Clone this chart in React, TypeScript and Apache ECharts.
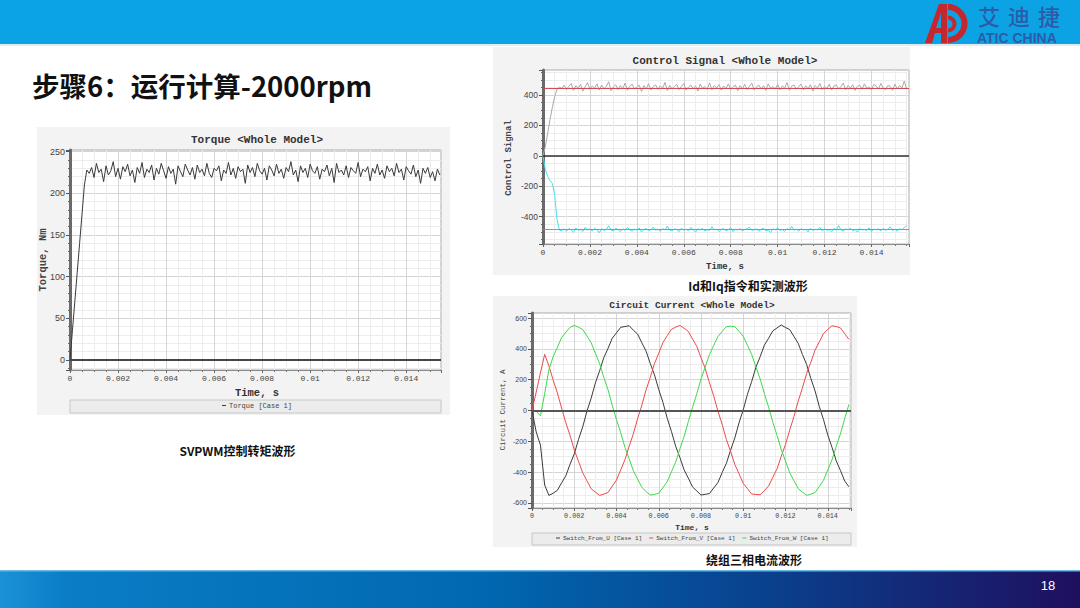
import React, { useEffect, useRef } from 'react';
import * as echarts from 'echarts';

// ---------- Torque chart data (sampled every 0.0001 s) ----------
const TORQUE_STEP = 0.0001;
const torqueRamp = [0, 35, 70, 105, 140, 175, 210];
const torqueSteady = [
  228, 224, 231, 219, 236, 225, 229, 214, 233, 222,
  227, 238, 220, 230, 217, 232, 226, 235, 221, 228,
  213, 231, 224, 237, 219, 229, 225, 234, 216, 230,
  223, 236, 227, 218, 232, 224, 229, 211, 233, 226,
  220, 235, 228, 222, 231, 217, 234, 225, 229, 221,
  236, 224, 219, 230, 227, 233, 215, 228, 224, 237,
  222, 230, 218, 232, 226, 229, 212, 234, 225, 231,
  220, 236, 227, 223, 230, 216, 233, 228, 221, 235,
  224, 229, 218, 231, 226, 238, 222, 228, 214, 233,
  225, 230, 219, 235, 227, 224, 232, 217, 229, 226,
  234, 221, 230, 213, 236, 225, 228, 222, 233, 219,
  231, 227, 224, 237, 220, 229, 226, 232, 215, 230,
  224, 235, 222, 228, 218, 233, 226, 230, 221, 236,
  225, 229, 216, 232, 227, 223, 234, 220, 228, 212,
  230, 224, 231, 219, 226, 215, 229, 222,
];
const torqueValues = torqueRamp.concat(torqueSteady);

// ---------- Control signal data (sampled every 0.0001 s) ----------
const CONTROL_STEP = 0.0001;
const iqRise = [0, 60, 150, 240, 320, 390, 440];
const iqSteady = [
  452, 444, 466, 436, 458, 476, 431, 461, 444, 470,
  426, 456, 482, 438, 460, 446, 474, 433, 466, 441,
  458, 488, 428, 454, 468, 436, 463, 443, 479, 432,
  459, 472, 439, 455, 465, 424, 462, 441, 475, 434,
  457, 467, 437, 461, 445, 484, 430, 464, 442, 456,
  470, 436, 458, 476, 433, 453, 466, 441, 461, 426,
  473, 444, 457, 438, 480, 435, 463, 447, 469, 432,
  460, 443, 474, 437, 456, 465, 429, 462, 442, 471,
  436, 458, 478, 434, 454, 466, 440, 462, 431, 474,
  445, 456, 439, 470, 435, 461, 446, 482, 432, 458,
  467, 438, 455, 473, 434, 461, 441, 468, 427, 463,
  447, 476, 436, 457, 443, 471, 433, 460, 466, 440,
  456, 479, 435, 462, 445, 469, 431, 458, 465, 438,
  474, 444, 455, 434, 470, 461, 439, 477, 446, 436,
  464, 457, 432, 472, 441, 463, 448, 492, 440,
];
const idFall = [0, -90, -135, -165, -180, -260, -420, -490];
const idSteady = [
  -492, -480, -497, -478, -488, -503, -475, -490, -484, -498,
  -470, -489, -481, -495, -477, -486, -506, -479, -491, -483,
  -460, -488, -494, -476, -485, -499, -480, -490, -472, -487,
  -496, -482, -489, -475, -501, -484, -478, -492, -486, -468,
  -490, -481, -497, -479, -487, -462, -488, -494, -480, -485,
  -499, -476, -489, -483, -493, -471, -486, -502, -480, -488,
  -477, -494, -485, -490, -466, -487, -481, -498, -484, -479,
  -492, -486, -473, -500, -482, -489, -478, -495, -485, -481,
  -469, -491, -486, -480, -497, -483, -476, -493, -488, -505,
  -480, -487, -474, -491, -484, -498, -479, -486, -464, -490,
  -482, -496, -478, -488, -485, -501, -476, -492, -483, -487,
  -471, -494, -480, -489, -486, -499, -477, -490, -458, -488,
  -495, -481, -487, -476, -493, -484, -502, -479, -488, -485,
  -490, -473, -497, -482, -486, -480, -494, -478, -489, -484,
  -466, -491, -483, -496, -479, -487, -472, -460,
];
const iqMeasured = iqRise.concat(iqSteady);
const idMeasured = idFall.concat(idSteady);
const iqCommand = 445;
const idCommand = -483;

// ---------- Circuit current data (sampled every 0.0002 s) ----------
const CURRENT_STEP = 0.0002;
const currentU = [
  0, -140, -225, -485, -552, -538, -519, -471, -425, -350,
  -282, -189, -107, -5, 80, 179, 258, 344, 404, 470,
  505, 541, 546, 551, 522, 497, 440, 386, 305, 231,
  136, 52, -50, -136, -232, -305, -386, -440, -497, -523,
  -550, -545, -540, -504, -469, -404, -344, -258, -179, -80,
  5, 106, 189, 282, 350, 425, 470, 518, 537, 556,
  540, 526, 481, 437, 365, 299, 208, 127, 26, -60,
  -159, -239, -327, -390, -458, -496,
];
const currentV = [
  0, 120, 245, 365, 290, 198, 115, 16, -79, -162,
  -256, -330, -405, -457, -509, -531, -552, -544, -533, -492,
  -452, -386, -320, -232, -151, -52, 35, 135, 216, 306,
  372, 442, 486, 528, 542, 553, 535, 514, 465, 417,
  343, 273, 180, 96, -4, -90, -188, -266, -351, -411,
  -474, -508, -543, -546, -548, -521, -491, -434, -379, -297,
  -221, -126, -40, 61, 146, 241, 314, 393, 446, 501,
  527, 551, 546, 537, 500, 463,
];
const currentW = [
  0, -5, -35, 110, 265, 350, 410, 474, 508, 541,
  553, 542, 527, 485, 441, 371, 305, 215, 134, 33,
  -60, -145, -239, -314, -392, -446, -500, -527, -550, -546,
  -537, -501, -463, -399, -336, -250, -169, -72, 21, 109,
  205, 283, 364, 423, 481, 514, 545, 548, 545, 515,
  482, 424, 364, 283, 205, 110, 22, -77, -162, -255,
  -329, -405, -457, -507, -531, -552, -544, -533, -494, -453,
  -386, -321, -234, -152, -53, 39,
];

const seriesNames = {
  torque: 'Torque [Case 1]',
  u: 'Switch_From_U [Case 1]',
  v: 'Switch_From_V [Case 1]',
  w: 'Switch_From_W [Case 1]',
};

const logoChars = ['艾', '迪', '捷'];

const toPoints = (vals: number[], step: number) =>
  vals.map((v, i) => [Number((i * step).toFixed(6)), v]);

const MONO = '"Liberation Mono", "DejaVu Sans Mono", monospace';
const SANS = '"Liberation Sans", Arial, sans-serif';
const CJK = '"Noto Sans CJK SC", "Noto Sans", sans-serif';

function xAxisCfg(gridIndex: number, max: number, fontSize: number) {
  return {
    type: 'value',
    gridIndex,
    min: 0,
    max,
    interval: 0.002,
    axisLine: { show: true, onZero: false, lineStyle: { color: '#8a8a8a', width: 1 } },
    axisTick: { show: true, length: 3, lineStyle: { color: '#666' } },
    minorTick: { show: true, splitNumber: 4, length: 2, lineStyle: { color: '#777' } },
    splitLine: { show: true, lineStyle: { color: '#d4d4d4', width: 1 } },
    minorSplitLine: { show: true, lineStyle: { color: '#ededed', width: 1 } },
    axisLabel: {
      show: true,
      showMaxLabel: false,
      fontFamily: MONO,
      fontSize,
      color: '#444',
      margin: 4,
    },
  };
}

function yAxisCfg(gridIndex: number, min: number, max: number, splitNumber: number, minor: number, fontSize: number) {
  return {
    type: 'value',
    gridIndex,
    min,
    max,
    splitNumber,
    axisLine: { show: true, onZero: false, lineStyle: { color: '#6a6a6a', width: 3 } },
    axisTick: { show: true, length: 4, lineStyle: { color: '#555' } },
    minorTick: { show: true, splitNumber: minor, length: 2, lineStyle: { color: '#666' } },
    splitLine: { show: true, lineStyle: { color: '#d4d4d4', width: 1 } },
    minorSplitLine: { show: true, lineStyle: { color: '#ededed', width: 1 } },
    axisLabel: {
      show: true,
      showMinLabel: false,
      showMaxLabel: false,
      fontFamily: SANS,
      fontSize,
      color: '#444',
      margin: 5,
    },
  };
}

function lineSeries(name: string, data: number[][], xi: number, color: string, extra: any = {}) {
  return {
    type: 'line',
    name,
    data,
    xAxisIndex: xi,
    yAxisIndex: xi,
    showSymbol: false,
    symbol: 'none',
    lineStyle: { color, width: 1 },
    itemStyle: { color },
    ...extra,
  };
}

function refLine(value: number, color: string, width: number) {
  return {
    yAxis: value,
    lineStyle: { color, width, type: 'solid' },
  };
}

const markLineBase = {
  silent: true,
  symbol: ['none', 'none'],
  label: { show: false },
  emphasis: { disabled: true },
};

function txt(text: string, x: number, y: number, font: string, fill = '#333', extra: any = {}) {
  return {
    type: 'text',
    x,
    y,
    z: 20,
    style: { text, font, fill, align: 'center', verticalAlign: 'middle' },
    ...extra,
  };
}

export default function App() {
  const ref = useRef<HTMLDivElement>(null);

  useEffect(() => {
    if (!ref.current) return;
    const chart = echarts.init(ref.current, null, { renderer: 'svg' });

    const red = '#c4272d';
    const option: any = {
      animation: false,
      backgroundColor: '#ffffff',
      grid: [
        { left: 70, top: 150, width: 371, height: 220, show: true, backgroundColor: '#fff', borderColor: '#a8a8a8', borderWidth: 1, containLabel: false, outerBoundsMode: 'none' },
        { left: 543, top: 70, width: 366, height: 174, show: true, backgroundColor: '#fff', borderColor: '#a8a8a8', borderWidth: 1, containLabel: false, outerBoundsMode: 'none' },
        { left: 532, top: 313, width: 319, height: 195, show: true, backgroundColor: '#fff', borderColor: '#a8a8a8', borderWidth: 1, containLabel: false, outerBoundsMode: 'none' },
      ],
      xAxis: [xAxisCfg(0, 0.01545, 8), xAxisCfg(1, 0.0156, 8), xAxisCfg(2, 0.0151, 6.8)],
      yAxis: [
        yAxisCfg(0, -12, 252, 5, 5, 9),
        yAxisCfg(1, -580, 565, 5, 4, 8.5),
        yAxisCfg(2, -634, 634, 6, 4, 7),
      ],
      legend: [
        {
          data: [seriesNames.torque],
          left: 222,
          top: 402,
          padding: 0,
          icon: 'rect',
          itemWidth: 4,
          itemHeight: 1,
          itemGap: 8,
          selectedMode: false,
          textStyle: { fontFamily: MONO, fontSize: 7, color: '#444', padding: [0, 0, 0, -2] },
        },
        {
          data: [seriesNames.u, seriesNames.v, seriesNames.w],
          left: 556,
          top: 535,
          padding: 0,
          icon: 'rect',
          itemWidth: 4,
          itemHeight: 1,
          itemGap: 7,
          selectedMode: false,
          textStyle: { fontFamily: MONO, fontSize: 6, color: '#444', padding: [0, 0, 0, -2] },
        },
      ],
      series: [
        lineSeries(seriesNames.torque, toPoints(torqueValues, TORQUE_STEP), 0, '#3a3a3a', {
          markLine: { ...markLineBase, data: [refLine(0, '#454545', 2)] },
        }),
        lineSeries('Iq measured', toPoints(iqMeasured, CONTROL_STEP), 1, '#a9a9a9', {
          markLine: { ...markLineBase, data: [refLine(0, '#333333', 1.5)] },
        }),
        lineSeries('Id measured', toPoints(idMeasured, CONTROL_STEP), 1, '#3fe3ee', {
          markLine: { ...markLineBase, data: [refLine(iqCommand, '#cf4b55', 1), refLine(idCommand, '#e45fe0', 1)] },
        }),
        lineSeries(seriesNames.u, toPoints(currentU, CURRENT_STEP), 2, '#3b3b3b', {
          markLine: { ...markLineBase, data: [refLine(0, '#555555', 2)] },
        }),
        lineSeries(seriesNames.v, toPoints(currentV, CURRENT_STEP), 2, '#ec4a4a'),
        lineSeries(seriesNames.w, toPoints(currentW, CURRENT_STEP), 2, '#3fd84a'),
      ],
      graphic: {
        elements: [
          // header band
          { type: 'rect', z: -5, shape: { x: 0, y: 0, width: 1080, height: 44 }, style: { fill: '#0ba3e3' } },
          { type: 'rect', z: -5, shape: { x: 0, y: 44, width: 1080, height: 2 }, style: { fill: '#dcecf5' } },
          // logo
          { type: 'polygon', z: 5, shape: { points: [[925, 43], [939, 4], [947, 4], [947, 43], [941, 43], [941, 33], [935, 33], [932, 43]] }, style: { fill: red } },
          { type: 'polygon', z: 6, shape: { points: [[941, 13], [941, 28], [936, 28]] }, style: { fill: '#0ba3e3' } },
          { type: 'arc', z: 5, shape: { cx: 948, cy: 23.5, r: 16.5, startAngle: -Math.PI / 2, endAngle: Math.PI / 2 }, style: { stroke: red, lineWidth: 6, fill: 'none' } },
          { type: 'arc', z: 5, shape: { cx: 948, cy: 24, r: 6.5, startAngle: -Math.PI / 2, endAngle: Math.PI / 2 }, style: { stroke: red, lineWidth: 4, fill: 'none' } },
          ...logoChars.map((c, i) => ({
            type: 'text', z: 5, x: 978 + i * 30, y: 15,
            style: { text: c, font: `500 22px ${CJK}`, fill: '#2d5ba8', align: 'left', verticalAlign: 'middle', lineHeight: 22 },
          })),
          { type: 'text', z: 5, x: 977, y: 37.5, style: { text: 'ATIC CHINA', font: `bold 14px ${SANS}`, fill: '#2d5ba8', align: 'left', verticalAlign: 'middle', lineHeight: 14 } },
          // slide title
          { type: 'text', z: 5, x: 32, y: 85, style: { text: '步骤6：运行计算-2000rpm', font: `bold 27.5px ${CJK}`, fill: '#111', align: 'left', verticalAlign: 'middle' } },
          // chart panels
          { type: 'rect', z: -5, shape: { x: 37, y: 127, width: 413, height: 288 }, style: { fill: '#f3f3f3' } },
          { type: 'rect', z: -5, shape: { x: 493, y: 47, width: 417, height: 228 }, style: { fill: '#f3f3f3' } },
          { type: 'rect', z: -5, shape: { x: 493, y: 296, width: 364, height: 251 }, style: { fill: '#f3f3f3' } },
          // legend boxes
          { type: 'rect', z: -4, shape: { x: 70, y: 400, width: 371, height: 13 }, style: { fill: '#ececec', stroke: '#c6c6c6', lineWidth: 1 } },
          { type: 'rect', z: -4, shape: { x: 532, y: 533, width: 319, height: 12 }, style: { fill: '#ececec', stroke: '#c6c6c6', lineWidth: 1 } },
          // chart titles & axis names
          txt('Torque <Whole Model>', 257, 140, `bold 11px ${MONO}`),
          txt('Time, s', 257, 393, `bold 10.5px ${MONO}`),
          txt('Torque, Nm', 43, 260, `bold 10.5px ${MONO}`, '#444', { rotation: Math.PI / 2 }),
          txt('Control Signal <Whole Model>', 725, 60.5, `bold 11px ${MONO}`),
          txt('Time, s', 725, 267, `bold 9px ${MONO}`),
          txt('Control Signal', 509, 158, `bold 9px ${MONO}`, '#444', { rotation: Math.PI / 2 }),
          txt('Circuit Current <Whole Model>', 692, 305.5, `bold 9.5px ${MONO}`),
          txt('Time, s', 692, 527, `bold 8px ${MONO}`),
          txt('Circuit Current, A', 503, 410, `7.5px ${MONO}`, '#444', { rotation: Math.PI / 2 }),
          // captions
          txt('SVPWM控制转矩波形', 237.5, 450, `bold 12px ${CJK}`, '#111'),
          txt('Id和Iq指令和实测波形', 748, 285, `bold 12px ${CJK}`, '#111'),
          txt('绕组三相电流波形', 754, 559, `bold 12px ${CJK}`, '#111'),
          // footer
          {
            type: 'rect',
            z: -5,
            shape: { x: 0, y: 571, width: 1080, height: 37 },
            style: {
              fill: new echarts.graphic.LinearGradient(0, 0, 1, 0, [
                { offset: 0, color: '#1b92d8' },
                { offset: 0.06, color: '#0a7dc6' },
                { offset: 0.45, color: '#0068b0' },
                { offset: 0.72, color: '#0a3f8c' },
                { offset: 1, color: '#1f0f5f' },
              ]),
            },
          },
          { type: 'rect', z: -4, shape: { x: 0, y: 570, width: 1080, height: 1.5 }, style: { fill: '#6bb8e8' } },
          txt('18', 1048, 585, `13px ${SANS}`, '#ffffff'),
        ],
      },
    };

    chart.setOption(option);
    return () => chart.dispose();
  }, []);

  return (
    <div
      ref={ref}
      style={{ position: 'fixed', left: 0, top: 0, width: 1080, height: 608, background: '#fff' }}
    />
  );
}
